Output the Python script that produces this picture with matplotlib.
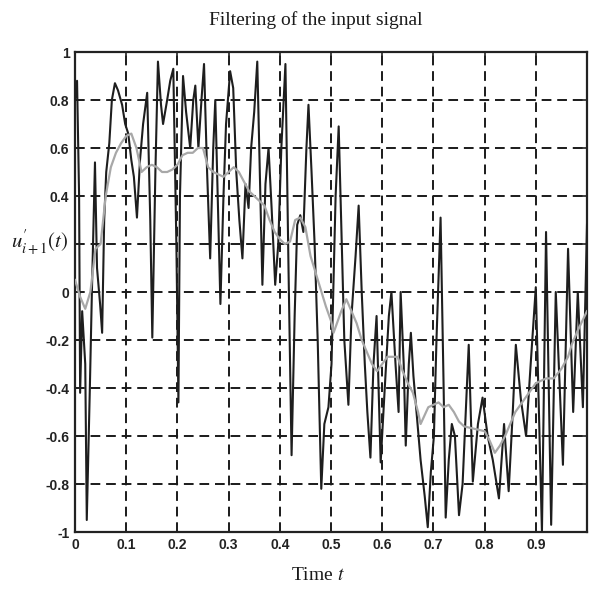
import matplotlib
matplotlib.use("Agg")
import matplotlib.pyplot as plt

plt.rcParams["mathtext.fontset"] = "stix"

# ---- data ----
t_noisy = [0.000, 0.004, 0.008, 0.010, 0.014, 0.020, 0.023, 0.029, 0.033, 0.039,
           0.043, 0.049, 0.053, 0.057, 0.061, 0.067, 0.072, 0.078, 0.084, 0.092,
           0.098, 0.104, 0.110, 0.115, 0.121, 0.127, 0.133, 0.141, 0.147, 0.151,
           0.157, 0.162, 0.168, 0.172, 0.180, 0.186, 0.192, 0.198, 0.202, 0.205,
           0.211, 0.217, 0.225, 0.231, 0.235, 0.241, 0.247, 0.252, 0.258, 0.264,
           0.270, 0.274, 0.280, 0.284, 0.290, 0.295, 0.303, 0.309, 0.315, 0.321,
           0.327, 0.333, 0.339, 0.344, 0.350, 0.356, 0.362, 0.366, 0.372, 0.378,
           0.384, 0.391, 0.397, 0.403, 0.411, 0.417, 0.423, 0.429, 0.434, 0.440,
           0.446, 0.452, 0.456, 0.462, 0.468, 0.474, 0.481, 0.487, 0.495, 0.501,
           0.509, 0.515, 0.521, 0.526, 0.534, 0.540, 0.548, 0.554, 0.560, 0.566,
           0.571, 0.577, 0.583, 0.589, 0.597, 0.605, 0.613, 0.618, 0.626, 0.632,
           0.636, 0.642, 0.646, 0.652, 0.656, 0.661, 0.667, 0.675, 0.683, 0.689,
           0.695, 0.701, 0.706, 0.714, 0.720, 0.724, 0.730, 0.736, 0.742, 0.750,
           0.757, 0.769, 0.777, 0.787, 0.796, 0.806, 0.816, 0.828, 0.838, 0.847,
           0.855, 0.861, 0.871, 0.881, 0.890, 0.900, 0.912, 0.920, 0.930, 0.939,
           0.953, 0.963, 0.973, 0.982, 0.992, 1.000]
u_noisy = [0.80, 0.88, 0.40, -0.42, -0.08, -0.30, -0.95, -0.40, 0.00, 0.54,
           0.10, -0.05, -0.17, 0.30, 0.50, 0.62, 0.80, 0.87, 0.84, 0.78,
           0.70, 0.66, 0.55, 0.48, 0.31, 0.55, 0.70, 0.83, 0.30, -0.19,
           0.50, 0.96, 0.78, 0.70, 0.80, 0.88, 0.93, 0.20, -0.46, 0.40,
           0.90, 0.75, 0.60, 0.80, 0.86, 0.60, 0.80, 0.95, 0.50, 0.14,
           0.60, 0.80, 0.30, -0.05, 0.40, 0.70, 0.92, 0.85, 0.50, 0.30,
           0.14, 0.45, 0.35, 0.60, 0.75, 0.96, 0.40, 0.03, 0.45, 0.60,
           0.35, 0.03, 0.20, 0.60, 0.95, 0.10, -0.68, -0.10, 0.28, 0.32,
           0.25, 0.60, 0.78, 0.50, 0.20, -0.20, -0.82, -0.55, -0.48, -0.30,
           0.40, 0.69, 0.20, -0.20, -0.47, -0.10, 0.15, 0.36, 0.00, -0.30,
           -0.50, -0.69, -0.30, -0.10, -0.71, -0.40, -0.10, 0.00, -0.30, -0.50,
           0.00, -0.30, -0.64, -0.30, -0.17, -0.35, -0.50, -0.70, -0.85, -0.98,
           -0.75, -0.60, -0.20, 0.31, -0.40, -0.94, -0.70, -0.55, -0.60, -0.93,
           -0.80, -0.22, -0.79, -0.55, -0.44, -0.60, -0.70, -0.86, -0.55, -0.83,
           -0.50, -0.22, -0.45, -0.60, -0.30, 0.02, -1.00, 0.25, -0.97, 0.00,
           -0.72, 0.18, -0.50, 0.00, -0.48, 0.28]

t_filt = [0.00, 0.01, 0.02, 0.03, 0.04, 0.05, 0.06, 0.07, 0.08, 0.09,
          0.10, 0.11, 0.12, 0.13, 0.14, 0.15, 0.16, 0.17, 0.18, 0.19,
          0.20, 0.21, 0.22, 0.23, 0.24, 0.25, 0.26, 0.27, 0.28, 0.29,
          0.30, 0.31, 0.32, 0.33, 0.34, 0.35, 0.36, 0.37, 0.38, 0.39,
          0.40, 0.41, 0.42, 0.43, 0.44, 0.45, 0.46, 0.47, 0.48, 0.49,
          0.50, 0.505, 0.52, 0.53, 0.54, 0.55, 0.56, 0.57, 0.58, 0.59,
          0.60, 0.61, 0.62, 0.63, 0.64, 0.65, 0.66, 0.67, 0.675, 0.69,
          0.70, 0.71, 0.72, 0.73, 0.74, 0.75, 0.76, 0.78, 0.80, 0.81,
          0.82, 0.83, 0.84, 0.85, 0.86, 0.87, 0.88, 0.89, 0.90, 0.91,
          0.92, 0.935, 0.95, 0.963, 0.97, 0.982, 1.00]
u_filt = [0.05, -0.02, -0.07, 0.00, 0.18, 0.20, 0.40, 0.52, 0.58, 0.62,
          0.65, 0.66, 0.60, 0.50, 0.52, 0.53, 0.52, 0.50, 0.50, 0.51,
          0.53, 0.57, 0.58, 0.58, 0.60, 0.60, 0.52, 0.50, 0.49, 0.48,
          0.50, 0.52, 0.50, 0.46, 0.42, 0.40, 0.38, 0.36, 0.30, 0.25,
          0.22, 0.20, 0.21, 0.30, 0.31, 0.27, 0.15, 0.08, 0.01, -0.06,
          -0.12, -0.17, -0.08, -0.03, -0.08, -0.13, -0.20, -0.25, -0.30, -0.33,
          -0.30, -0.27, -0.27, -0.27, -0.33, -0.38, -0.42, -0.50, -0.55, -0.48,
          -0.47, -0.46, -0.48, -0.47, -0.50, -0.54, -0.56, -0.57, -0.58, -0.62,
          -0.67, -0.64, -0.60, -0.55, -0.50, -0.47, -0.44, -0.41, -0.38, -0.37,
          -0.36, -0.36, -0.32, -0.27, -0.22, -0.16, -0.08]

x_ticks = [0, 0.1, 0.2, 0.3, 0.4, 0.5, 0.6, 0.7, 0.8, 0.9]
x_tick_labels = ["0", "0.1", "0.2", "0.3", "0.4", "0.5", "0.6", "0.7", "0.8", "0.9"]
y_ticks = [-1, -0.8, -0.6, -0.4, -0.2, 0, 0.2, 0.4, 0.6, 0.8, 1]
# the 0.2 label is hidden behind the y-axis label in the reference
y_tick_labels = ["-1", "-0.8", "-0.6", "-0.4", "-0.2", "0", "", "0.4", "0.6", "0.8", "1"]

# ---- figure ----
fig = plt.figure(figsize=(5.89, 6.00), dpi=100)
ax = fig.add_axes([75/589, 1 - 532/600, 512/589, 480/600])

ax.plot(t_noisy, u_noisy, color="#1e1e1e", lw=1.5, zorder=3)
ax.plot(t_filt, u_filt, color="#a8a8a8", lw=1.6, zorder=4)

ax.set_xlim(0, 1.0)
ax.set_ylim(-1, 1)
ax.set_xticks(x_ticks)
ax.set_xticklabels(x_tick_labels)
ax.set_yticks(y_ticks)
ax.set_yticklabels(y_tick_labels)

for lab in ax.get_xticklabels() + ax.get_yticklabels():
    lab.set_fontfamily("Liberation Sans")
    lab.set_fontweight("bold")
    lab.set_fontsize(10)
    lab.set_color("#222222")

ax.tick_params(direction="in", length=5, width=1.2, top=True, right=True,
               pad=4, color="#222222")
ax.grid(True, color="#1a1a1a", linestyle=(0, (5, 3)), linewidth=1.4, zorder=1)
for s in ax.spines.values():
    s.set_linewidth(1.6)
    s.set_color("#222222")

fig.text(316/589, 1 - 20/600, "Filtering of the input signal",
         ha="center", va="center", fontsize=14, family="Liberation Serif",
         color="#1a1a1a")
fig.text(318/589, 1 - 576/600, r"Time $t$", ha="center", va="center",
         fontsize=14, family="Liberation Serif", color="#1a1a1a")
fig.text(40/589, 1 - 243/600, r"$u^{\prime}_{i+1}(t)$", ha="center", va="center",
         fontsize=15, color="#1a1a1a")

fig.savefig("out.png", dpi=100)
